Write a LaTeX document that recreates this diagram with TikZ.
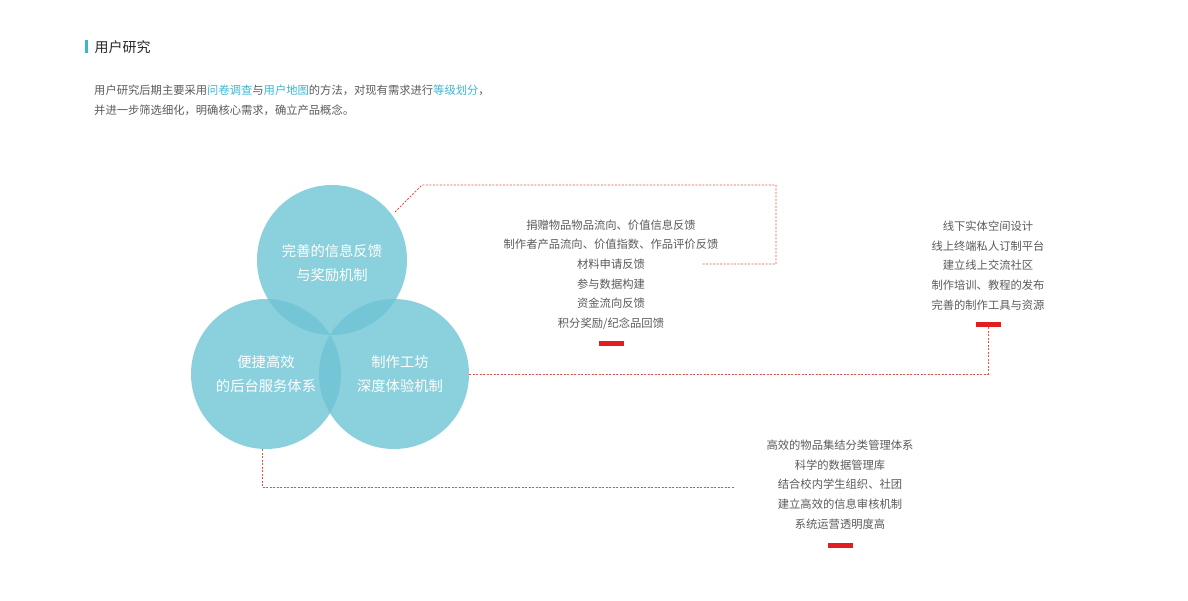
\documentclass[tikz,border=0pt]{standalone}
\usepackage{fontspec}
\setmainfont{Noto Sans CJK SC}
\definecolor{bubblec}{RGB}{110,196,212}
\definecolor{listgray}{RGB}{90,90,90}
\definecolor{hlcyan}{RGB}{58,182,209}
\definecolor{linkred}{RGB}{235,80,70}
\definecolor{barred}{RGB}{226,30,30}
\definecolor{titlec}{RGB}{40,40,40}
\begin{document}
\begin{tikzpicture}[x=1pt,y=-1pt,
  bubble/.style={circle, minimum size=150pt, inner sep=0pt, fill=bubblec, fill opacity=0.8, draw=none},
  bubbletext/.style={text=white, font=\fontsize{14.3}{24}\selectfont, align=center, inner sep=0pt},
  listtext/.style={text=listgray, font=\fontsize{11.3}{19.7}\selectfont, align=center, inner sep=0pt},
  link/.style={draw=linkred, line width=0.8pt, dash pattern=on 2pt off 1.5pt},
  redbar/.style={fill=barred, minimum width=25pt, minimum height=5pt, inner sep=0pt},
]
\useasboundingbox (0,0) rectangle (1188,600);

% title
\fill[hlcyan] (85,40) rectangle (88,53);
\node[anchor=west, text=titlec, font=\fontsize{14}{16}\selectfont, inner sep=0pt] (title) at (94.5,47) {用户研究};
\node[anchor=west, text=listgray, font=\fontsize{11.3}{20}\selectfont, align=left, inner sep=0pt] (para) at (94,100.5)
  {用户研究后期主要采用\textcolor{hlcyan}{问卷调查}与\textcolor{hlcyan}{用户地图}的方法，对现有需求进行\textcolor{hlcyan}{等级划分}，\\
   并进一步筛选细化，明确核心需求，确立产品概念。};

% bubbles
\node[bubble] (top) at (332,260) {};
\node[bubble] (left) at (266,374) {};
\node[bubble] (right) at (394,374) {};
\node[bubbletext] (toptext) at (332,263) {完善的信息反馈\\与奖励机制};
\node[bubbletext] (lefttext) at (266,374) {便捷高效\\的后台服务体系};
\node[bubbletext] (righttext) at (400,374) {制作工坊\\深度体验机制};

% lists
\node[listtext] (list1) at (611,274.5) {捐赠物品物品流向、价值信息反馈\\制作者产品流向、价值指数、作品评价反馈\\材料申请反馈\\参与数据构建\\资金流向反馈\\积分奖励/纪念品回馈};
\node[redbar] (bar1) at (611,343) {};
\node[listtext] (list2) at (988,265.5) {线下实体空间设计\\线上终端私人订制平台\\建立线上交流社区\\制作培训、教程的发布\\完善的制作工具与资源};
\node[redbar] (bar2) at (988,324) {};
\node[listtext] (list3) at (840,484.5) {高效的物品集结分类管理体系\\科学的数据管理库\\结合校内学生组织、社团\\建立高效的信息审核机制\\系统运营透明度高};
\node[redbar] (bar3) at (840,545) {};

% connectors
\coordinate (c1a) at (395,212);
\coordinate (c1end) at (702,264);
\coordinate (c3a) at (262,449);
\coordinate (c3end) at (735,487);
\draw[link] (c1a) -- (422,185) -- (776,185) -- (776,264) -- (c1end);
\draw[link] (right.east) -- (988,374) -- (bar2.south);
\draw[link] (c3a) -- (262,487) -- (c3end);
\end{tikzpicture}
\end{document}
